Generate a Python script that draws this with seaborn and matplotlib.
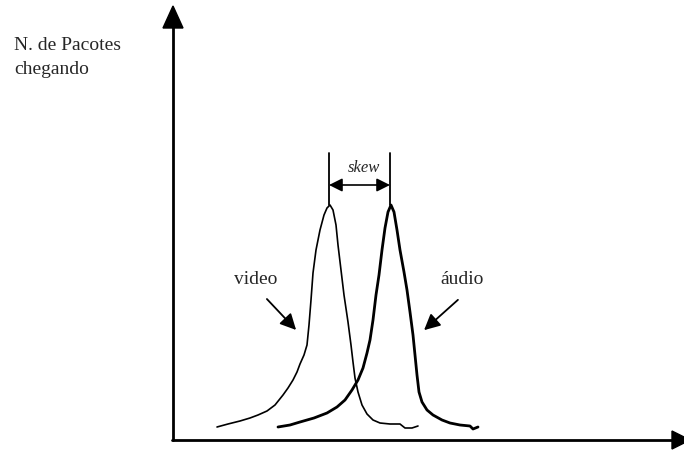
import matplotlib
matplotlib.use("Agg")
import matplotlib.pyplot as plt
import seaborn as sns

# curva do video (x, altura)
video_x = [217, 228, 240, 250, 258, 267, 275, 283, 288, 293, 297, 300, 304, 307,
           309, 311, 313, 316, 320, 324, 327, 330, 333, 336, 338, 341, 344, 348,
           351, 353, 355, 358, 362, 367, 373, 380, 390, 400, 405, 412, 418]
video_y = [13, 16, 19, 22, 25, 29, 35, 45, 52, 60, 68, 76, 85, 95,
           115, 140, 167, 190, 210, 225, 232, 235, 230, 215, 195, 170, 145, 118,
           95, 78, 62, 48, 35, 26, 20, 17, 16, 16, 12, 12, 14]

# curva do audio
audio_x = [278, 290, 300, 314, 327, 337, 345, 352, 358, 363, 367, 370, 373, 376,
           379, 382, 385, 388, 391, 394, 397, 400, 404, 407, 410, 413, 415, 417,
           419, 422, 427, 433, 442, 450, 460, 470, 473, 478]
audio_y = [13, 15, 18, 22, 27, 33, 40, 50, 60, 72, 87, 100, 120, 145,
           165, 190, 212, 228, 235, 228, 210, 190, 168, 150, 128, 105, 85, 65,
           48, 38, 30, 25, 20, 17, 15, 14, 11, 13]

sns.set_style("white")
plt.rcParams['font.family'] = ['Liberation Serif', 'DejaVu Serif']

fig = plt.figure(figsize=(6.84, 4.74), dpi=100)
ax = fig.add_axes([0, 0, 1, 1])
ax.set_xlim(0, 684)
ax.set_ylim(-34, 440)
ax.axis("off")

sns.lineplot(x=video_x, y=video_y, sort=False, color="black", lw=1.2, ax=ax)
sns.lineplot(x=audio_x, y=audio_y, sort=False, color="black", lw=2.0, ax=ax)

# eixos com setas
ax.plot([173, 173], [0, 420], color="black", lw=2)
ax.plot([172, 675], [0, 0], color="black", lw=2)
ax.fill([163, 173, 183], [412, 434, 412], color="black")
ax.fill([672, 690, 672], [-9, 0, 9], color="black")

# skew
ax.plot([329, 329], [235, 287], color="black", lw=1.3)
ax.plot([390, 390], [235, 287], color="black", lw=1.3)
ax.annotate("", xy=(329, 255), xytext=(390, 255),
            arrowprops=dict(arrowstyle="<|-|>", color="black", lw=1.2,
                            mutation_scale=20, shrinkA=0, shrinkB=0))
ax.text(364, 272, "skew", ha="center", va="center", fontsize=12, style="italic")

ax.text(256, 160, "video", ha="center", va="center", fontsize=14)
ax.text(462, 160, "áudio", ha="center", va="center", fontsize=14)
ax.annotate("", xy=(298, 108), xytext=(265, 143),
            arrowprops=dict(arrowstyle="-|>", color="black", lw=1.3, mutation_scale=24))
ax.annotate("", xy=(422, 108), xytext=(460, 142),
            arrowprops=dict(arrowstyle="-|>", color="black", lw=1.3, mutation_scale=24))

ax.text(14, 395, "N. de Pacotes", ha="left", va="center", fontsize=14)
ax.text(14, 371, "chegando", ha="left", va="center", fontsize=14)

fig.savefig("out.png", dpi=100)
